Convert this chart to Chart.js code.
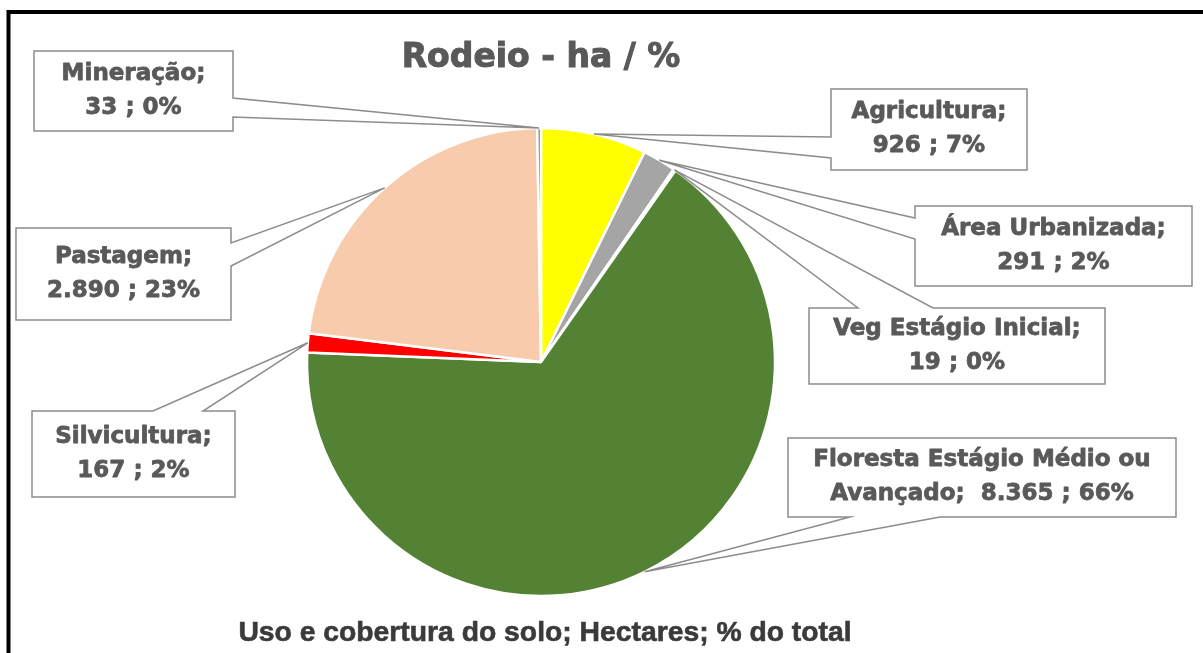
<!DOCTYPE html>
<html>
<head>
<meta charset="utf-8">
<title>Rodeio - ha / %</title>
<script src="https://cdn.jsdelivr.net/npm/chart.js@4"></script>
<style>
    html, body { margin: 0; padding: 0; background: #ffffff; }
    #wrap { width: 1203px; height: 653px; position: relative; }
</style>
</head>
<body>
<div id="wrap"><canvas id="usoSolo" width="1203" height="653"></canvas></div>
<script>
var categories = ['Agricultura', 'Área Urbanizada', 'Veg Estágio Inicial', 'Floresta Estágio Médio ou Avançado', 'Silvicultura', 'Pastagem', 'Mineração'];
var hectares = [926, 291, 19, 8365, 167, 2890, 33];
var percentLabels = [7, 2, 0, 66, 2, 23, 0];
var sliceColors = ['#FFFF00', '#A5A5A5', '#A9D18E', '#548235', '#FF0000', '#F8CBAD', '#7F7F7F'];

var chartTitle = 'Rodeio - ha / %';
var chartFooter = 'Uso e cobertura do solo; Hectares; % do total';

// callout boxes, same order as categories; p1/p2 = where the pointer leaves the box edge
var callouts = [
    {x: 831, y: 89, w: 196, h: 81, side: 'left', p1: 137, p2: 158},
    {x: 915, y: 206, w: 277, h: 80, side: 'left', p1: 218, p2: 239},
    {x: 809, y: 308, w: 296, h: 76, side: 'top', p1: 858, p2: 933},
    {x: 788, y: 438, w: 388, h: 79, side: 'bottom', p1: 850, p2: 940, breakAfter: ' ou'},
    {x: 32, y: 411, w: 203, h: 86, side: 'top', p1: 153, p2: 203},
    {x: 16, y: 228, w: 215, h: 92, side: 'right', p1: 243, p2: 266},
    {x: 34, y: 51, w: 199, h: 80, side: 'right', p1: 98, p2: 117}
];

function formatHa(v) {
    return String(v).replace(/\B(?=(\d{3})+(?!\d))/g, '.');
}

function calloutLines(i) {
    var name = categories[i];
    var tail = formatHa(hectares[i]) + ' ; ' + percentLabels[i] + '%';
    var brk = callouts[i].breakAfter;
    if (brk) {
        var cut = name.indexOf(brk) + brk.length;
        return [name.slice(0, cut), name.slice(cut).trim() + ';  ' + tail];
    }
    return [name + ';', tail];
}

// heavy text: fill plus a thin stroke in the same colour
function heavyText(ctx, text, x, y, weight) {
    ctx.lineWidth = weight;
    ctx.strokeStyle = ctx.fillStyle;
    ctx.strokeText(text, x, y);
    ctx.fillText(text, x, y);
}

function calloutPath(ctx, c, ax, ay) {
    var r = c.x + c.w, b = c.y + c.h;
    ctx.beginPath();
    if (c.side === 'right') {
        ctx.moveTo(c.x, c.y); ctx.lineTo(r, c.y); ctx.lineTo(r, c.p1);
        ctx.lineTo(ax, ay);
        ctx.lineTo(r, c.p2); ctx.lineTo(r, b); ctx.lineTo(c.x, b);
    } else if (c.side === 'left') {
        ctx.moveTo(c.x, c.y); ctx.lineTo(r, c.y); ctx.lineTo(r, b); ctx.lineTo(c.x, b);
        ctx.lineTo(c.x, c.p2);
        ctx.lineTo(ax, ay);
        ctx.lineTo(c.x, c.p1);
    } else if (c.side === 'top') {
        ctx.moveTo(c.x, c.y); ctx.lineTo(c.p1, c.y);
        ctx.lineTo(ax, ay);
        ctx.lineTo(c.p2, c.y); ctx.lineTo(r, c.y); ctx.lineTo(r, b); ctx.lineTo(c.x, b);
    } else {
        ctx.moveTo(c.x, c.y); ctx.lineTo(r, c.y); ctx.lineTo(r, b); ctx.lineTo(c.p2, b);
        ctx.lineTo(ax, ay);
        ctx.lineTo(c.p1, b); ctx.lineTo(c.x, b);
    }
    ctx.closePath();
}

var decorPlugin = {
    id: 'decor',
    beforeDraw: function (chart) {
        var ctx = chart.ctx;
        ctx.save();
        // outer frame (runs off the right and bottom edges)
        ctx.strokeStyle = '#000000';
        ctx.lineWidth = 4;
        ctx.strokeRect(8.5, 12, 1400, 800);
        ctx.textAlign = 'center';
        ctx.textBaseline = 'alphabetic';
        ctx.fillStyle = '#595959';
        ctx.font = 'bold 33px "DejaVu Sans"';
        heavyText(ctx, chartTitle, 541, 67, 1);
        ctx.fillStyle = '#3A3A3A';
        ctx.font = 'bold 28.3px "Liberation Sans", Arial';
        heavyText(ctx, chartFooter, 545, 641, 0.6);
        ctx.restore();
    },
    afterDatasetsDraw: function (chart) {
        var ctx = chart.ctx;
        var meta = chart.getDatasetMeta(0);
        ctx.save();
        ctx.lineJoin = 'miter';
        meta.data.forEach(function (arc, i) {
            var c = callouts[i];
            var mid = (arc.startAngle + arc.endAngle) / 2;
            var ax = arc.x + Math.cos(mid) * arc.outerRadius;
            var ay = arc.y + Math.sin(mid) * arc.outerRadius;

            ctx.fillStyle = '#ffffff';
            ctx.fillRect(c.x, c.y, c.w, c.h);
            ctx.strokeStyle = '#8C8C8C';
            ctx.lineWidth = 1.5;
            calloutPath(ctx, c, ax, ay);
            ctx.stroke();

            var lines = calloutLines(i);
            var cx = c.x + c.w / 2, cy = c.y + c.h / 2;
            ctx.fillStyle = '#595959';
            ctx.font = 'bold 23px "DejaVu Sans"';
            ctx.textAlign = 'center';
            ctx.textBaseline = 'middle';
            ctx.lineJoin = 'round';
            heavyText(ctx, lines[0], cx, cy - 17, 0.8);
            heavyText(ctx, lines[1], cx, cy + 17, 0.8);
            ctx.lineJoin = 'miter';
        });
        ctx.restore();
    }
};

var pieChart = new Chart(document.getElementById('usoSolo'), {
    type: 'pie',
    data: {
        labels: categories,
        datasets: [{
            data: hectares,
            backgroundColor: sliceColors,
            borderColor: '#ffffff',
            borderWidth: 2.5,
            radius: 234
        }]
    },
    options: {
        responsive: false,
        animation: false,
        layout: {
            padding: {left: 300, right: 421, top: 121, bottom: 50}
        },
        plugins: {
            legend: {display: false},
            tooltip: {enabled: false}
        }
    },
    plugins: [decorPlugin]
});
</script>
</body>
</html>
